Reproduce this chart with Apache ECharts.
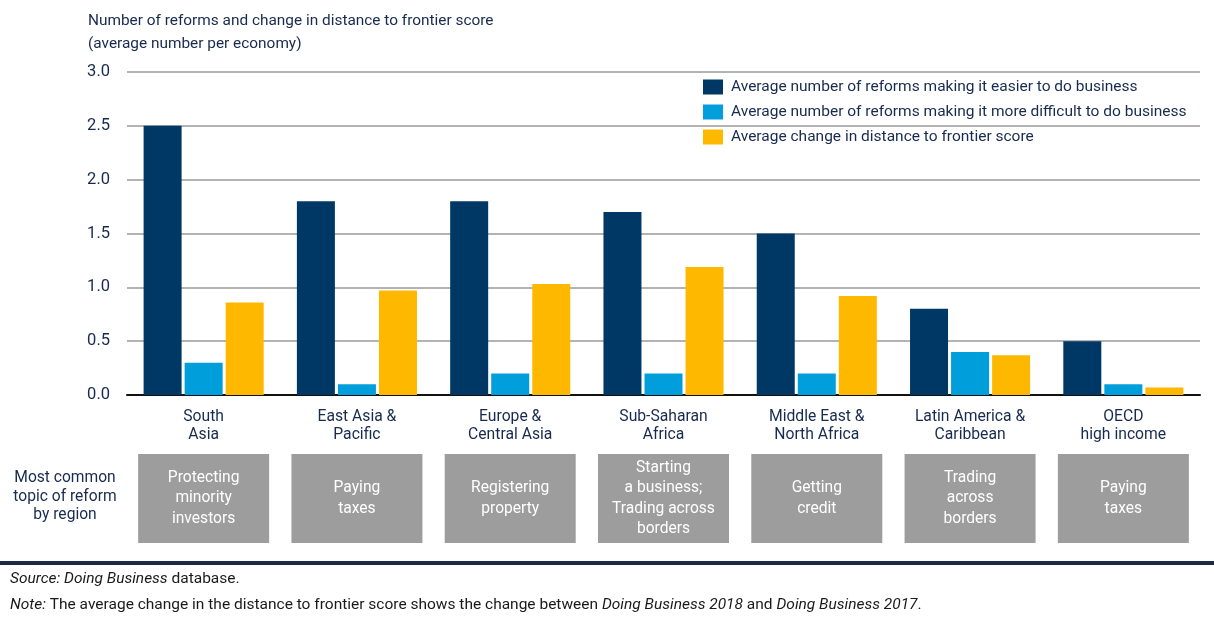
<!DOCTYPE html>
<html><head><meta charset="utf-8">
<script src="https://cdn.jsdelivr.net/npm/echarts@6/dist/echarts.min.js"></script>
<style>html,body{margin:0;padding:0;background:#fff}#c{width:1214px;height:623px}</style>
</head><body><div id="c"></div>
<script>
const regions = ['South\nAsia','East Asia &\nPacific','Europe &\nCentral Asia','Sub-Saharan\nAfrica','Middle East &\nNorth Africa','Latin America &\nCaribbean','OECD\nhigh income'];
const topics = ['Protecting\nminority\ninvestors','Paying\ntaxes','Registering\nproperty','Starting\na business;\nTrading across\nborders','Getting\ncredit','Trading\nacross\nborders','Paying\ntaxes'];
const easier = [2.5, 1.8, 1.8, 1.7, 1.5, 0.8, 0.5];
const harder = [0.3, 0.1, 0.2, 0.2, 0.2, 0.4, 0.1];
const dtfChange = [0.86, 0.97, 1.03, 1.19, 0.92, 0.37, 0.07];
const seriesNames = ['Average number of reforms making it easier to do business','Average number of reforms making it more difficult to do business','Average change in distance to frontier score'];
const yTicks = ['0.0','0.5','1.0','1.5','2.0','2.5','3.0'];

const FONT = "Roboto,'Noto Sans',sans-serif";
const NAVY_TXT = '#172a4f';
const colors = ['#003865','#009fdb','#ffb800'];
const LH = 20.5, BOXH = 89;
const topicData = topics.map(t => {
  const n = t.split('\n').length;
  const pv = (BOXH - n * LH) / 2;
  return {value: t, textStyle: {padding: [pv, 0, pv, 0]}};
});

const chart = echarts.init(document.getElementById('c'), null, {renderer: 'canvas'});
chart.setOption({
  animation: false,
  textStyle: {fontFamily: FONT},
  grid: {left: 127, right: 14, top: 72, bottom: 228, containLabel: false},
  legend: {
    orient: 'vertical', left: 703, top: 79, padding: 0,
    itemWidth: 20, itemHeight: 15, itemGap: 9,
    icon: 'rect',
    textStyle: {fontFamily: FONT, fontSize: 15.5, color: NAVY_TXT, padding: [0, 0, 0, 3]},
    data: seriesNames
  },
  xAxis: [{
    type: 'category', data: regions,
    axisTick: {show: false},
    axisLine: {lineStyle: {color: '#111', width: 2}},
    axisLabel: {fontFamily: FONT, fontSize: 15.7, color: NAVY_TXT, lineHeight: 18, margin: 13, interval: 0}
  }, {
    type: 'category', data: topicData, position: 'bottom', offset: 59,
    axisTick: {show: false}, axisLine: {show: false},
    axisLabel: {fontFamily: FONT, fontSize: 15.6, color: '#fff', lineHeight: LH, margin: 0, interval: 0,
      backgroundColor: '#9d9d9d', width: 131, align: 'center'}
  }],
  yAxis: {
    type: 'value', min: 0, max: 3, interval: 0.5,
    axisLabel: {fontFamily: FONT, fontSize: 16.5, color: NAVY_TXT, margin: 17,
      formatter: v => yTicks[Math.round(v / 0.5)]},
    splitLine: {lineStyle: {color: '#9a9a9a', width: 1.5}},
    axisLine: {show: false}, axisTick: {show: false}
  },
  series: [
    {name: seriesNames[0], type: 'bar', data: easier, itemStyle: {color: colors[0]}, barWidth: 38, barGap: '8%'},
    {name: seriesNames[1], type: 'bar', data: harder, itemStyle: {color: colors[1]}, barWidth: 38, barGap: '8%'},
    {name: seriesNames[2], type: 'bar', data: dtfChange, itemStyle: {color: colors[2]}, barWidth: 38, barGap: '8%'}
  ],
  graphic: [
    {type: 'text', left: 88, top: 10, style: {text: 'Number of reforms and change in distance to frontier score\n(average number per economy)', font: '15.4px ' + FONT, fill: NAVY_TXT, lineHeight: 23}},
    {type: 'text', x: 65, y: 469, style: {text: 'Most common\ntopic of reform\nby region', font: '15.6px ' + FONT, fill: NAVY_TXT, lineHeight: 18.5, textAlign: 'center', textVerticalAlign: 'top'}},
    {type: 'rect', left: 0, top: 561, shape: {width: 1214, height: 4}, style: {fill: '#1c2b45'}},
    {type: 'text', left: 10, top: 571, style: {rich: {i: {fontFamily: FONT, fontStyle: 'italic', fontSize: 15.5, fill: '#1a1a1a'}, n: {fontFamily: FONT, fontSize: 15.5, fill: '#1a1a1a'}}, text: '{i|Source: Doing Business}{n| database.}'}},
    {type: 'text', left: 10, top: 597, style: {rich: {i: {fontFamily: FONT, fontStyle: 'italic', fontSize: 15.5, fill: '#1a1a1a'}, n: {fontFamily: FONT, fontSize: 15.5, fill: '#1a1a1a'}}, text: '{i|Note:}{n| The average change in the distance to frontier score shows the change between }{i|Doing Business 2018}{n| and }{i|Doing Business 2017}{n|.}'}}
  ]
});
</script></body></html>
